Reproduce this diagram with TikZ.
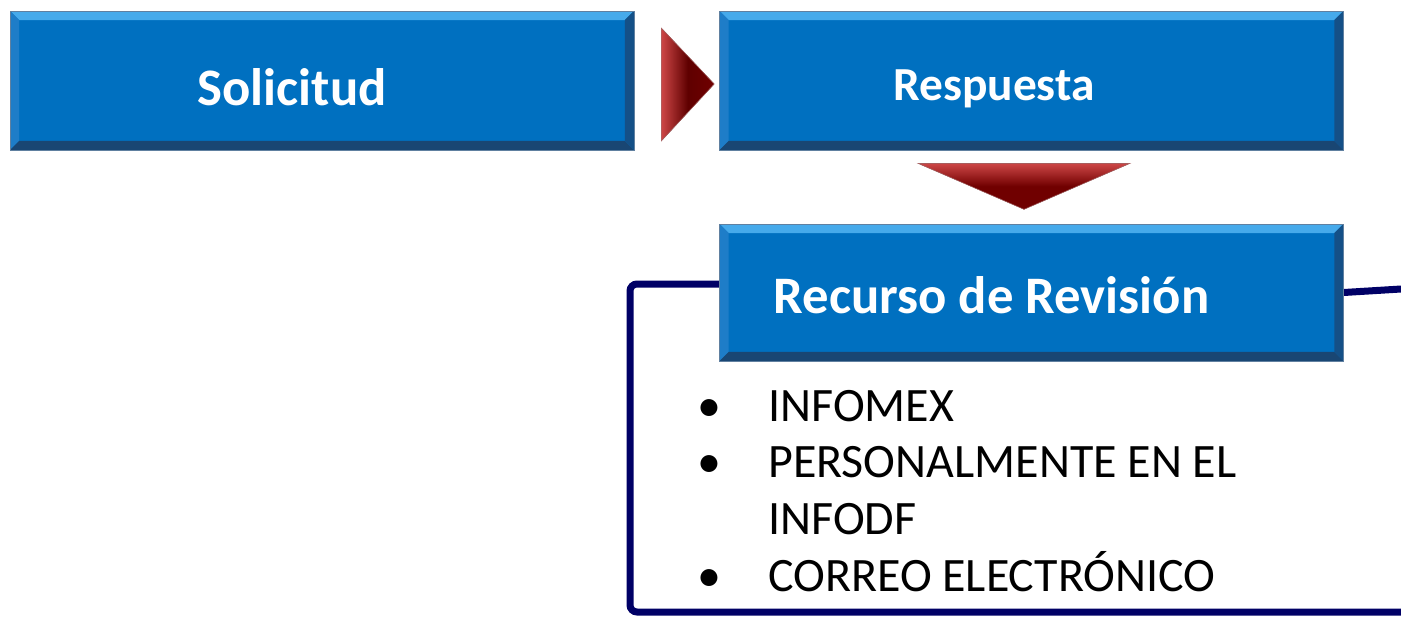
\documentclass[tikz,border=0pt]{standalone}
\usepackage{fontspec}
\setmainfont{Carlito}
\usetikzlibrary{calc, backgrounds}
\definecolor{boxblue}{RGB}{0,112,192}
\definecolor{boxrim}{RGB}{96,128,160}
\definecolor{bevtop}{RGB}{70,170,235}
\definecolor{bevleft}{RGB}{30,125,200}
\definecolor{bevbot}{RGB}{25,70,115}
\definecolor{bevright}{RGB}{20,80,135}
\definecolor{navyline}{RGB}{0,0,102}
\definecolor{tridark}{RGB}{112,0,0}
\definecolor{trilight}{RGB}{205,70,70}
\tikzset{
  bevelbox/.style={minimum width=12.48cm, minimum height=2.78cm, inner sep=0pt,
    fill=boxblue, draw=boxrim, line width=0.4pt, text=white,
    font=\bfseries\fontsize{30}{36}\selectfont, text depth=0pt,
    path picture={
      \coordinate (pnw) at (path picture bounding box.north west);
      \coordinate (pne) at (path picture bounding box.north east);
      \coordinate (psw) at (path picture bounding box.south west);
      \coordinate (pse) at (path picture bounding box.south east);
      \fill[bevtop] (pnw) -- (pne) -- ($(pne)+(-9,9)$) -- ($(pnw)+(9,9)$) -- cycle;
      \fill[bevleft] (pnw) -- ($(pnw)+(9,9)$) -- ($(psw)+(9,-9)$) -- (psw) -- cycle;
      \fill[bevbot] (psw) -- (pse) -- ($(pse)+(-9,-9)$) -- ($(psw)+(9,-9)$) -- cycle;
      \fill[bevright] (pne) -- (pse) -- ($(pse)+(-9,-9)$) -- ($(pne)+(-9,9)$) -- cycle;
    }},
  redtri/.style={draw=tridark!60, line width=0.3pt},
  frame/.style={draw=navyline, line width=0.14cm, rounded corners=4},
  items/.style={anchor=base west, inner sep=0pt, font=\fontsize{27.3}{32.3}\selectfont}
}
\begin{document}
\begin{tikzpicture}[x=0.02cm, y=-0.02cm]
  \useasboundingbox (0,0) rectangle (1401,616);

  % Boxes
  \node[bevelbox, text height=28pt] (sol) at (322,80.5) {Solicitud\hspace*{1.2cm}};
  \node[bevelbox, font=\bfseries\fontsize{27}{32}\selectfont, text height=22.4pt] (res) at (1031.5,80.5) {Respuesta\hspace*{1.5cm}};
  \node[bevelbox, minimum height=2.74cm, text height=24.4pt] (rec) at (1031.5,292.5) {Recurso de Revisión\hspace*{1.6cm}};

  % Frame behind the review box
  \coordinate (fbl) at (630,612);
  \coordinate (fbr) at (1401,612);
  \coordinate (fr)  at (1401,289);
  \begin{scope}[on background layer]
    \draw[frame] ($(rec.west)+(0,-8.5)$) -| (fbl) -- (fbr);
    \draw[frame, rounded corners=0] (rec.east) -- (fr);
  \end{scope}

  % Arrows
  \fill[redtri, left color=trilight, right color=tridark, middle color=tridark!85!black]
    ($(sol.east)+(27,-52.5)$) -- ($(res.west)+(-5,3.5)$) -- ($(sol.east)+(27,60.5)$) -- cycle;
  \fill[redtri, top color=trilight, bottom color=tridark, middle color=tridark]
    ($(res.south)+(-113.5,13)$) -- ($(res.south)+(98.5,13)$) -- ($(res.south)+(-7.5,59)$) -- cycle;

  % List
  \node[items] (list) at (697,421) {\begin{tabular}[t]{@{}p{1.42cm}@{}l@{}}
    \textbullet & INFOMEX\\
    \textbullet & PERSONALMENTE EN EL\\
                & INFODF\\
    \textbullet & CORREO ELECTRÓNICO
  \end{tabular}};
\end{tikzpicture}
\end{document}
